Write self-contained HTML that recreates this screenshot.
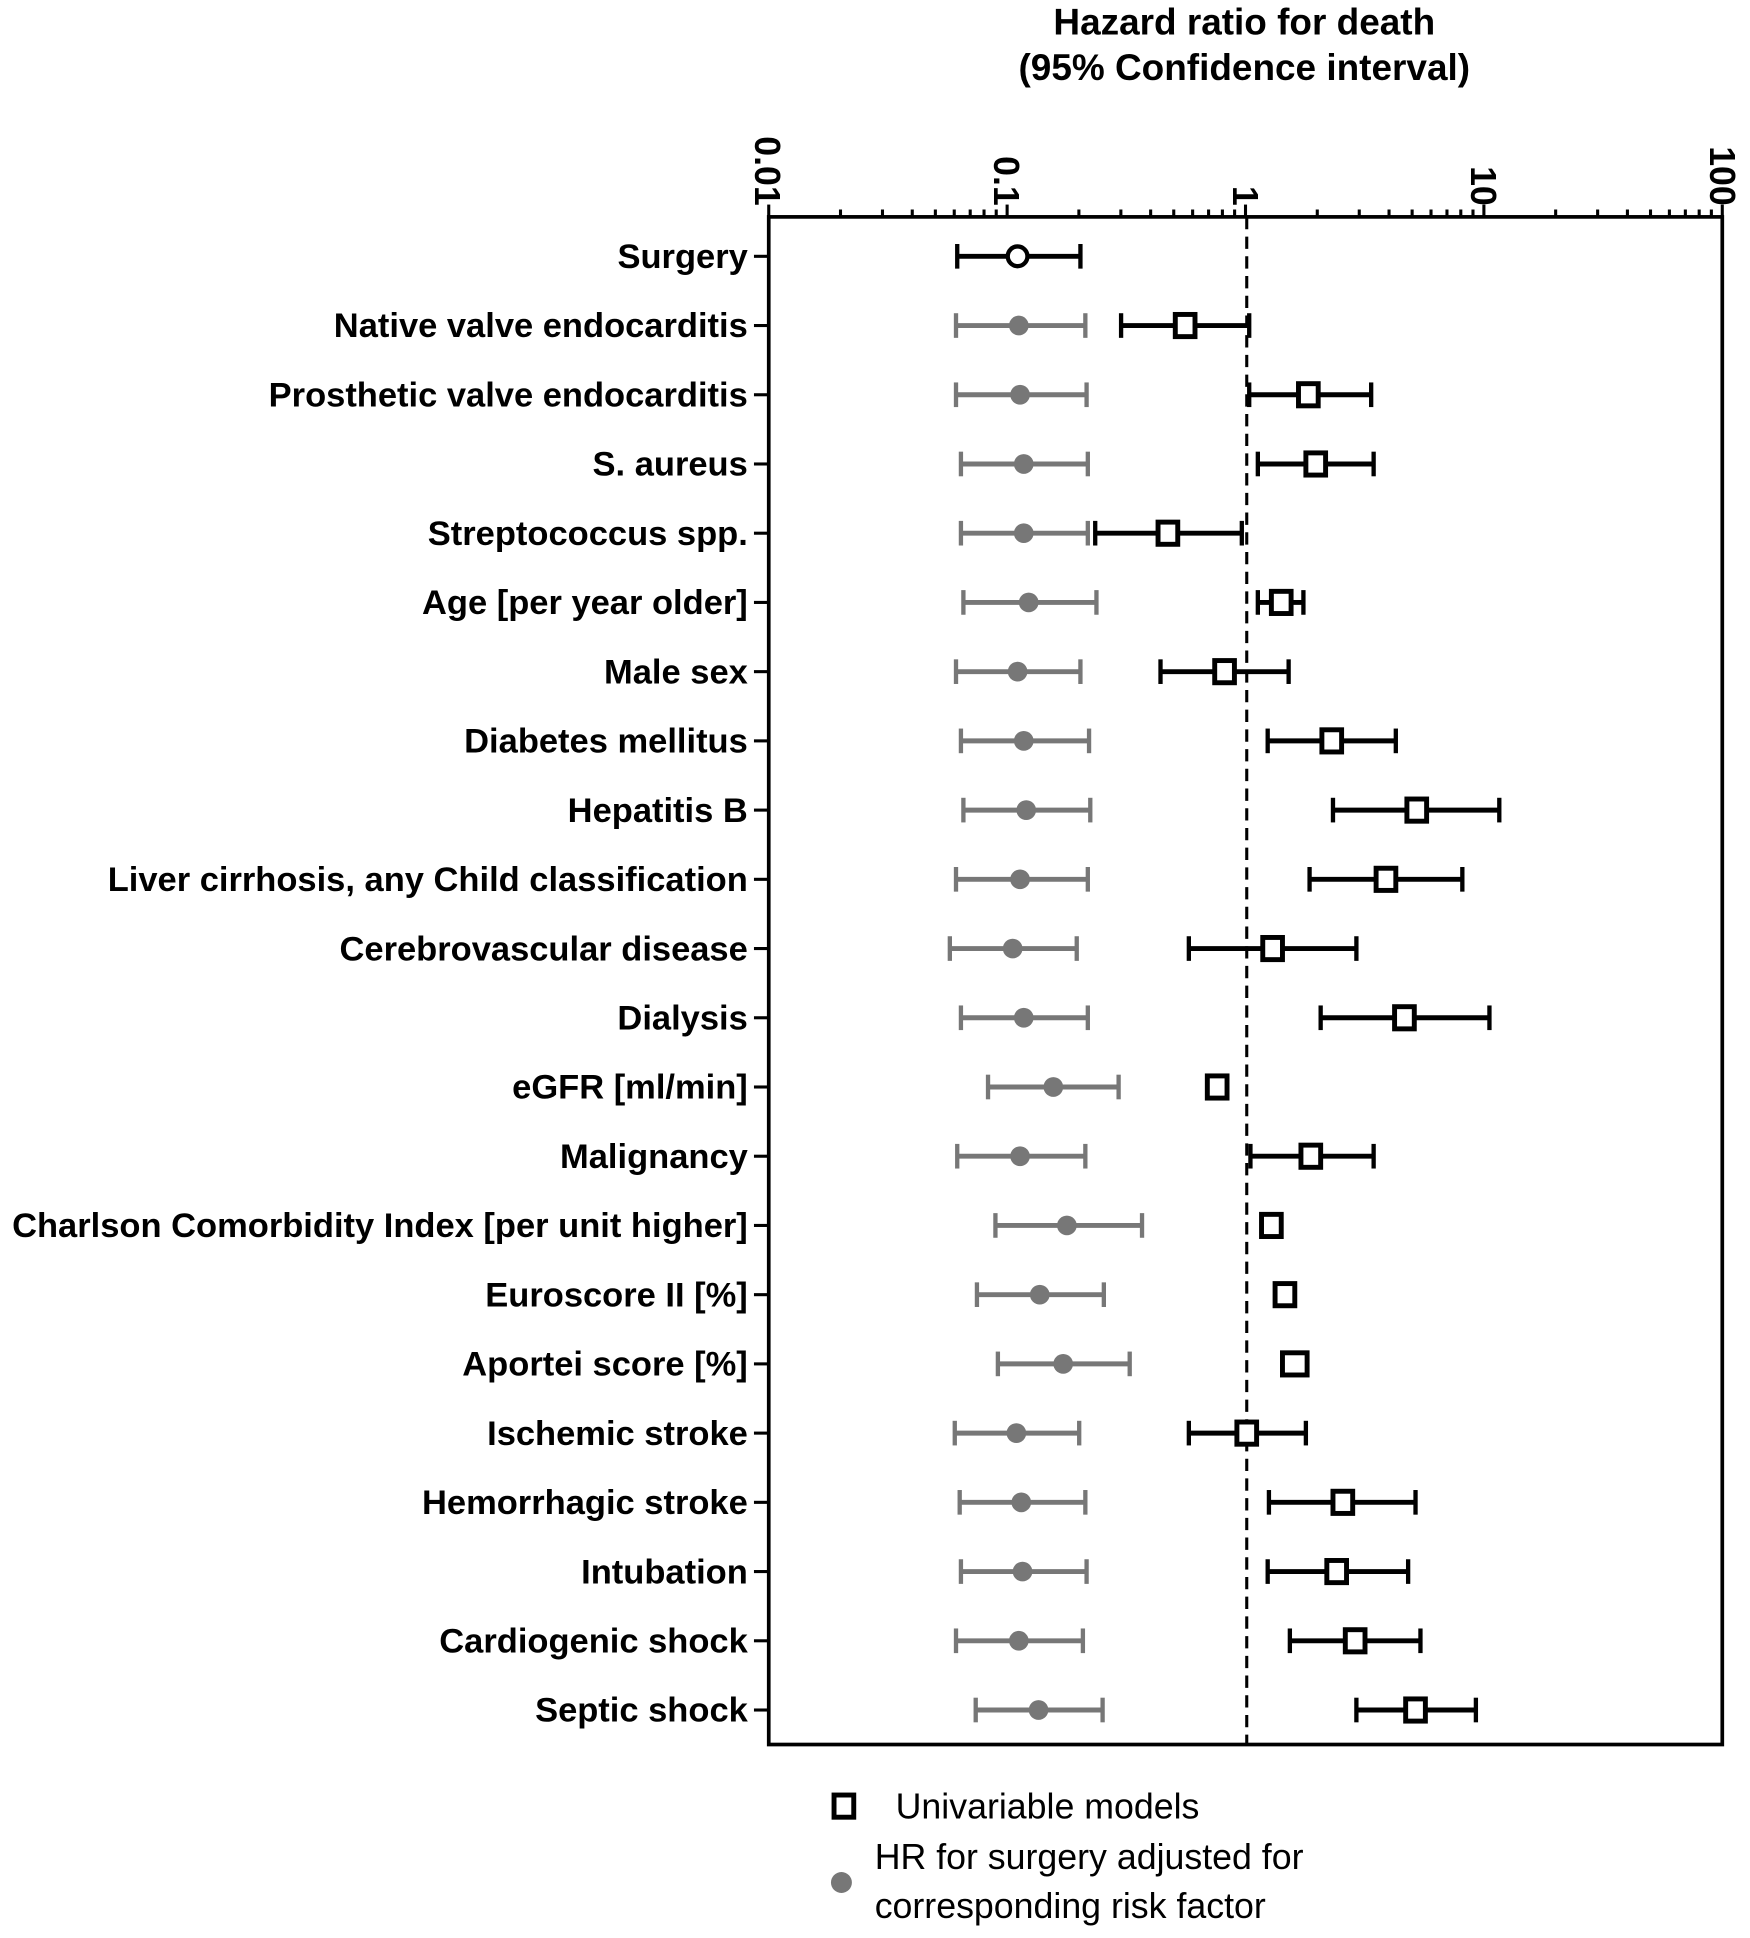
<!DOCTYPE html>
<html><head><meta charset="utf-8"><style>
html,body{margin:0;padding:0;background:#fff}
svg{display:block}
text{font-family:"Liberation Sans",Arial,sans-serif}
</style></head><body>
<svg width="1750" height="1938" viewBox="0 0 1420.5 1573" xmlns="http://www.w3.org/2000/svg">
<g font-weight="bold" font-size="30" text-anchor="middle" fill="#000">
<text x="1010" y="28">Hazard ratio for death</text>
<text x="1010" y="65">(95% Confidence interval)</text>
</g>
<g font-weight="bold" font-size="29" fill="#000">
<text transform="translate(613,167) rotate(90)" text-anchor="end">0.01</text>
<text transform="translate(807,167) rotate(90)" text-anchor="end">0.1</text>
<text transform="translate(1001,167) rotate(90)" text-anchor="end">1</text>
<text transform="translate(1194,167) rotate(90)" text-anchor="end">10</text>
<text transform="translate(1388,167) rotate(90)" text-anchor="end">100</text>
</g>
<g stroke="#000" stroke-width="3" fill="none">
<rect x="624" y="176" width="774" height="1240"/>
</g>
<g stroke="#000" stroke-width="2.5" id="ticks"></g>
<line x1="1012" y1="176" x2="1012" y2="1416" stroke="#000" stroke-width="2.5" stroke-dasharray="10,6"/>
<g id="rows"></g>
<g font-size="29" fill="#000">
<rect x="677" y="1457" width="16" height="18" fill="#fff" stroke="#000" stroke-width="4"/>
<text x="727" y="1476">Univariable models</text>
<circle cx="683" cy="1528" r="8.5" fill="#777"/>
<text x="710" y="1517">HR for surgery adjusted for</text>
<text x="710" y="1557">corresponding risk factor</text>
</g>
<script>
var NS="http://www.w3.org/2000/svg";
function el(p,t,a){var e=document.createElementNS(NS,t);for(var k in a)e.setAttribute(k,a[k]);p.appendChild(e);return e;}
var tk=document.getElementById('ticks');
for(var d=0;d<4;d++){for(var m=1;m<10;m++){var x=624+(d+Math.log10(m))*193.5;var L=m==1?10:6;el(tk,'line',{x1:x,y1:176,x2:x,y2:176-L});}}
el(tk,'line',{x1:1398,y1:176,x2:1398,y2:166});
var labels=["Surgery","Native valve endocarditis","Prosthetic valve endocarditis","S. aureus","Streptococcus spp.","Age [per year older]","Male sex","Diabetes mellitus ","Hepatitis B","Liver cirrhosis, any Child classification ","Cerebrovascular disease","Dialysis","eGFR [ml/min]","Malignancy","Charlson Comorbidity Index [per unit higher]","Euroscore II [%]","Aportei score [%]","Ischemic stroke","Hemorrhagic stroke","Intubation","Cardiogenic shock","Septic shock"];
var g=[[777,826,877],[776,827,881],[776,828,882],[780,831,883],[780,831,883],[782,835,890],[776,826,877],[780,831,884],[782,833,885],[776,828,883],[771,822,874],[780,831,883],[802,855,908],[777,828,881],[808,866,927],[793,844,896],[810,863,917],[775,825,876],[779,829,881],[780,830,882],[776,827,879],[792,843,895]];
var b=[null,[910,962,1014],[1014,1062,1113],[1021,1068,1115],[889,948,1008],[1021,1040,1058],[942,994,1046],[1029,1081,1133],[1082,1150,1217],[1063,1125,1187],[965,1033,1101],[1072,1140,1209],[988,988,988],[1015,1064,1115],[1032,1032,1032],[1043,1043,1043],[1043,1051,1059],[965,1012,1060],[1030,1090,1149],[1029,1085,1143],[1047,1100,1153],[1101,1149,1198]];
var R=document.getElementById('rows');
for(var i=0;i<22;i++){
 var y=208+i*56.19;
 el(R,'line',{x1:612,y1:y,x2:624,y2:y,stroke:'#000','stroke-width':2.5});
 var t=el(R,'text',{x:607,y:y+9.5,'text-anchor':'end','font-size':28,'font-weight':'bold'});t.textContent=labels[i];
 var c=i==0?'#000':'#777';var q=g[i];
 el(R,'line',{x1:q[0],y1:y,x2:q[2],y2:y,stroke:c,'stroke-width':4});
 el(R,'line',{x1:q[0],y1:y-10,x2:q[0],y2:y+10,stroke:c,'stroke-width':3.5});
 el(R,'line',{x1:q[2],y1:y-10,x2:q[2],y2:y+10,stroke:c,'stroke-width':3.5});
 if(i==0)el(R,'circle',{cx:q[1],cy:y,r:8,fill:'#fff',stroke:'#000','stroke-width':3.5});
 else el(R,'circle',{cx:q[1],cy:y,r:8,fill:'#777'});
 if(b[i]){var p=b[i];
  if(p[2]-p[0]>20){
   el(R,'line',{x1:p[0],y1:y,x2:p[2],y2:y,stroke:'#000','stroke-width':4});
   el(R,'line',{x1:p[0],y1:y-10,x2:p[0],y2:y+10,stroke:'#000','stroke-width':3.5});
   el(R,'line',{x1:p[2],y1:y-10,x2:p[2],y2:y+10,stroke:'#000','stroke-width':3.5});
  }
  var w=(i==16)?20:16;
  el(R,'rect',{x:p[1]-w/2,y:y-9,width:w,height:18,fill:'#fff',stroke:'#000','stroke-width':4});
 }
}
</script>
</svg>
</body></html>
